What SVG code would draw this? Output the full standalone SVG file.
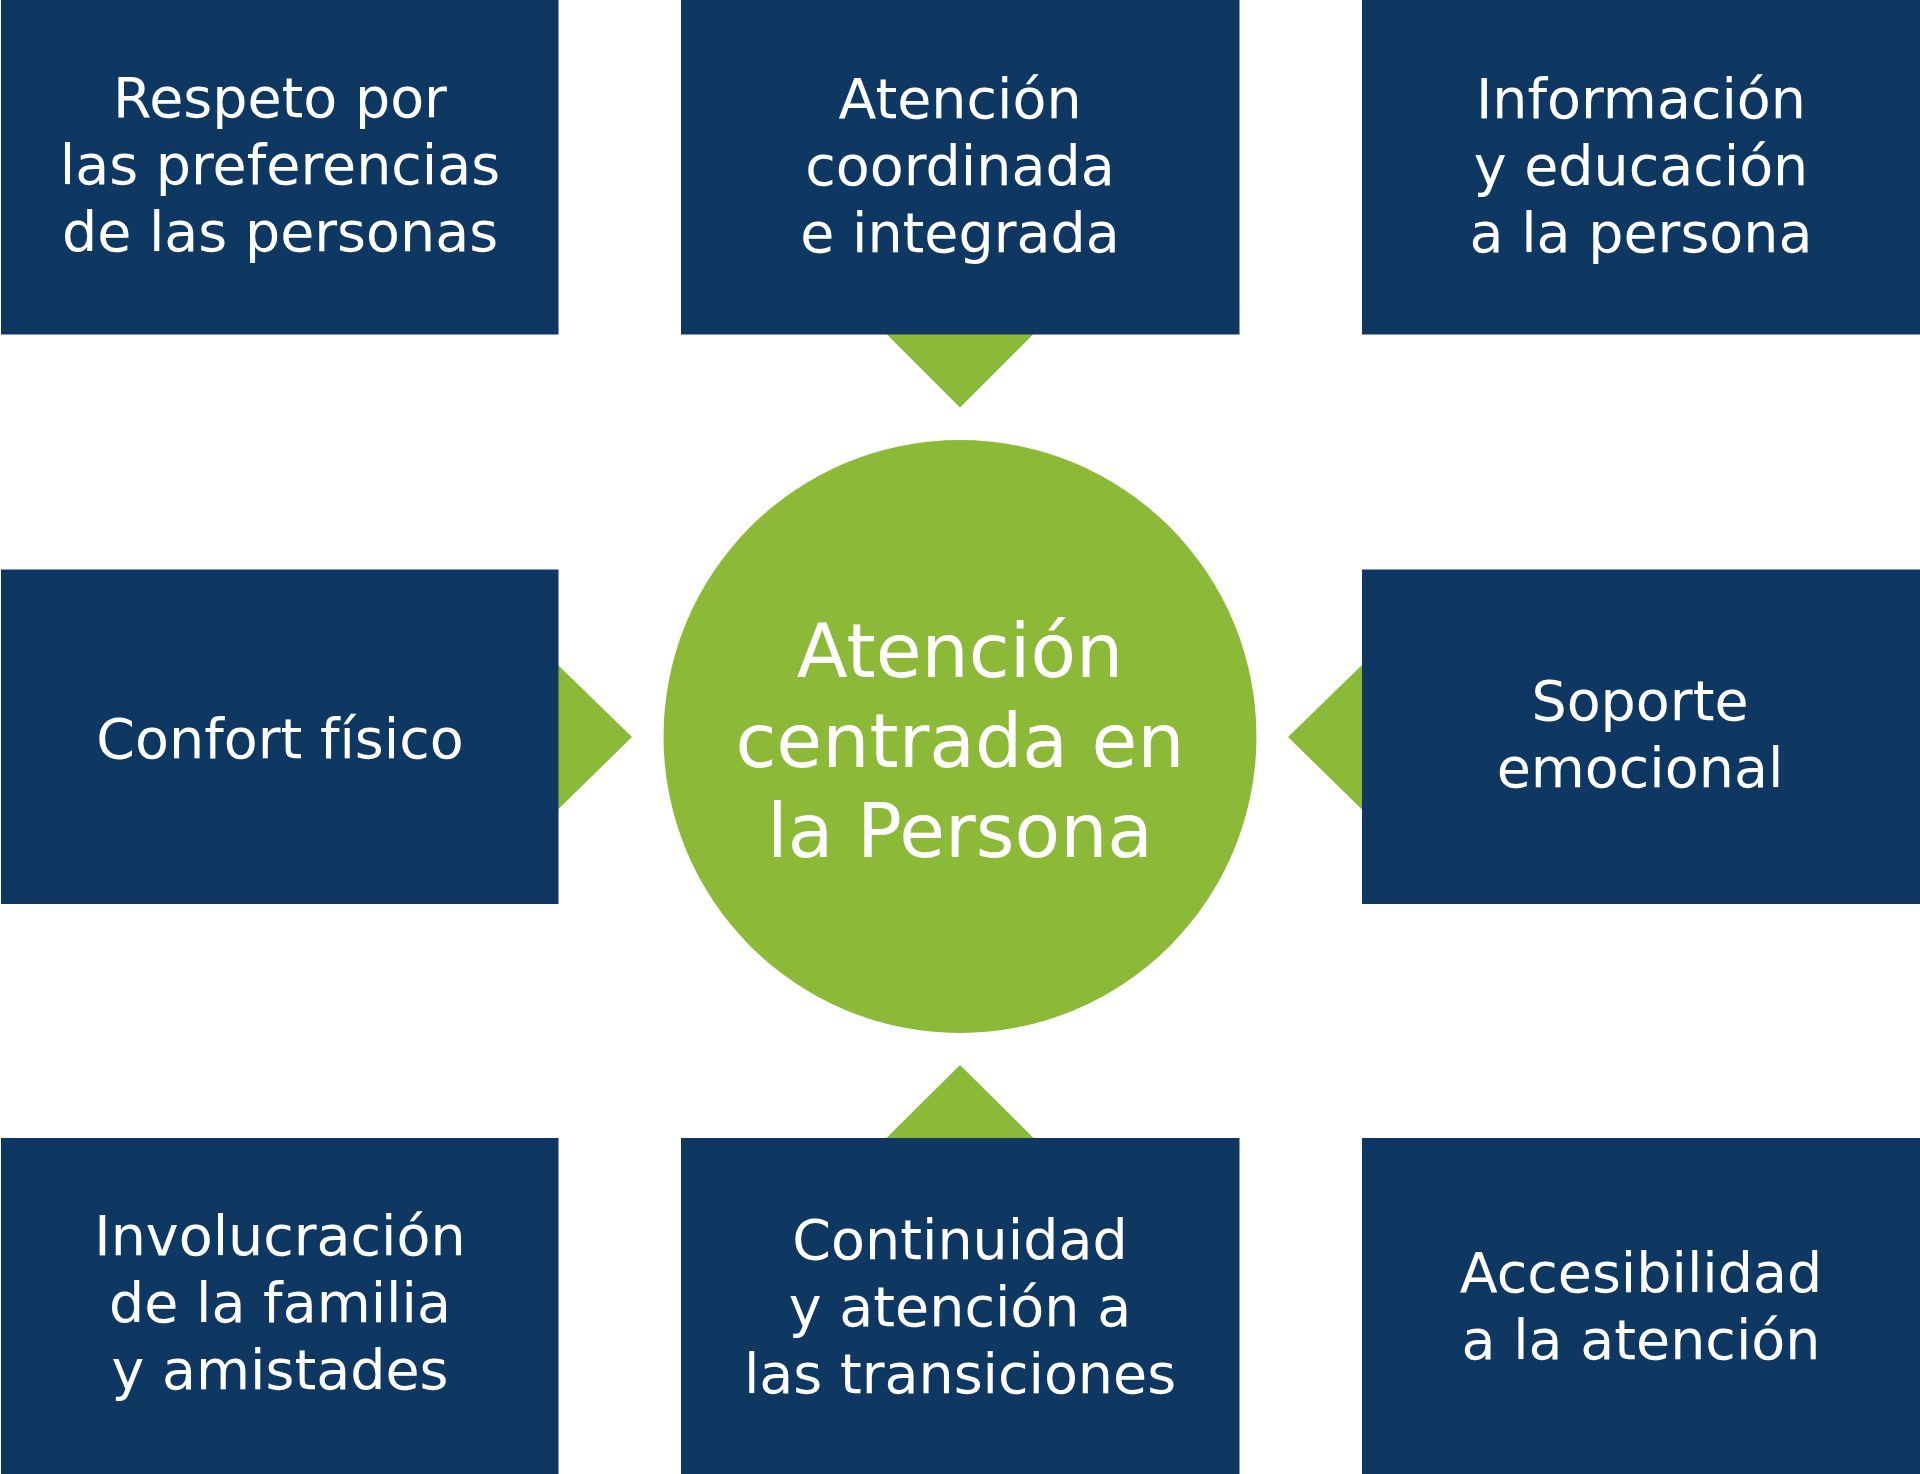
<svg xmlns="http://www.w3.org/2000/svg" width="1920" height="1474" viewBox="0 0 1920 1474">
<style>
.box{fill:#0e3861}
.tri{fill:#8cba38}
.t{font-family:"DejaVu Sans","Liberation Sans",sans-serif;font-size:55.5px;fill:#ffffff;text-anchor:middle}
.c{font-family:"DejaVu Sans","Liberation Sans",sans-serif;font-size:74.5px;fill:#ffffff;text-anchor:middle}
</style>
<rect width="1920" height="1474" fill="#ffffff"/>
<g id="connectors">
<polygon class="tri" points="886.5,334 1033.5,334 960,407.5"/>
<polygon class="tri" points="886.5,1138 1033.5,1138 960,1065"/>
<polygon class="tri" points="558,665 558,809.5 632,737"/>
<polygon class="tri" points="1362,665 1362,809.5 1288,737"/>
</g>
<g id="center">
<circle cx="960" cy="736.5" r="296.5" fill="#8cba38"/>
<text class="c" x="960" y="677">Atención</text>
<text class="c" x="960" y="767">centrada en</text>
<text class="c" x="960" y="857">la Persona</text>
</g>
<g id="n1">
<rect class="box" x="1" y="0" width="557.5" height="334.5"/>
<text class="t" x="280" y="117">Respeto por</text>
<text class="t" x="280" y="184">las preferencias</text>
<text class="t" x="280" y="251">de las personas</text>
</g>
<g id="n2">
<rect class="box" x="681" y="0" width="558.5" height="334.5"/>
<text class="t" x="960" y="118">Atención</text>
<text class="t" x="960" y="185">coordinada</text>
<text class="t" x="960" y="252">e integrada</text>
</g>
<g id="n3">
<rect class="box" x="1362" y="0" width="558" height="334.5"/>
<text class="t" x="1641" y="118">Información</text>
<text class="t" x="1641" y="185">y educación</text>
<text class="t" x="1641" y="252">a la persona</text>
</g>
<g id="n4">
<rect class="box" x="1" y="569.5" width="557.5" height="334.5"/>
<text class="t" x="280" y="758">Confort físico</text>
</g>
<g id="n5">
<rect class="box" x="1362" y="569.5" width="558" height="334.5"/>
<text class="t" x="1640" y="720">Soporte</text>
<text class="t" x="1640" y="787">emocional</text>
</g>
<g id="n6">
<rect class="box" x="1" y="1138" width="557.5" height="336"/>
<text class="t" x="280" y="1255">Involucración</text>
<text class="t" x="280" y="1322">de la familia</text>
<text class="t" x="280" y="1389">y amistades</text>
</g>
<g id="n7">
<rect class="box" x="681" y="1138" width="558.5" height="336"/>
<text class="t" x="960" y="1259">Continuidad</text>
<text class="t" x="960" y="1326">y atención a</text>
<text class="t" x="960" y="1393">las transiciones</text>
</g>
<g id="n8">
<rect class="box" x="1362" y="1138" width="558" height="336"/>
<text class="t" x="1641" y="1292">Accesibilidad</text>
<text class="t" x="1641" y="1359">a la atención</text>
</g>
</svg>
